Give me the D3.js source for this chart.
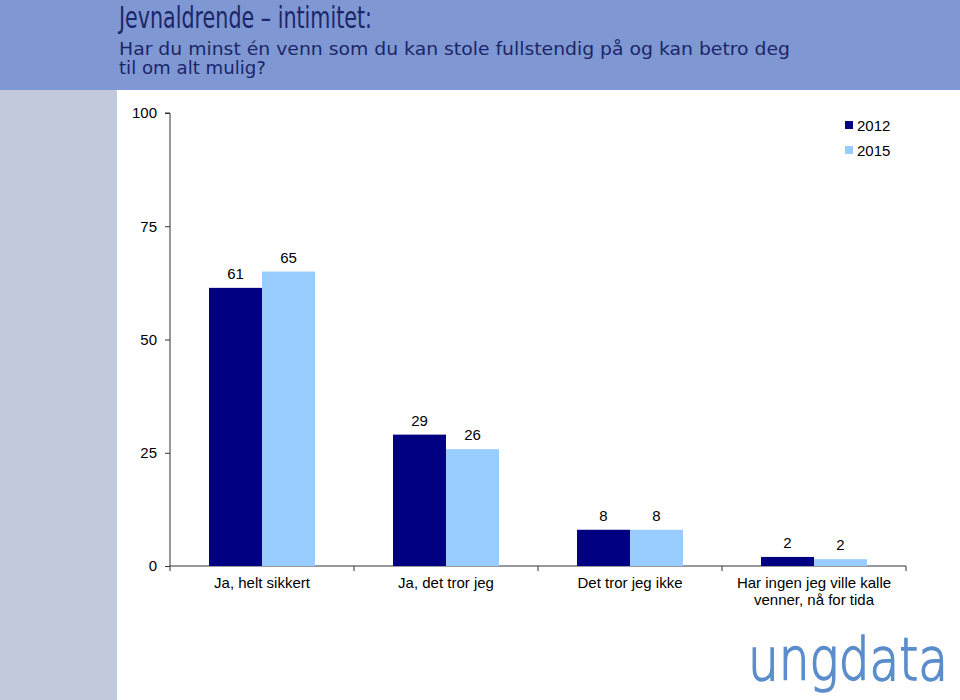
<!DOCTYPE html>
<html><head><meta charset="utf-8">
<script src="https://cdn.jsdelivr.net/npm/d3@7"></script>
<style>body{margin:0;background:#fff}svg{display:block}</style>
</head><body>
<script>
const categories = [["Ja, helt sikkert"], ["Ja, det tror jeg"], ["Det tror jeg ikke"], ["Har ingen jeg ville kalle", "venner, nå for tida"]];
const seriesNames = ["2012", "2015"];
const values2012 = [61.4, 29, 8, 2.0];
const values2015 = [65, 25.8, 8, 1.5];
const labels2012 = ["61", "29", "8", "2"];
const labels2015 = ["65", "26", "8", "2"];
const yTicks = [0, 25, 50, 75, 100];
const colors = ["#000080", "#99ccff"];

const W = 960, H = 700;
const svg = d3.select("body").append("svg").attr("width", W).attr("height", H);

// background panels
svg.append("rect").attr("x", 0).attr("y", 0).attr("width", W).attr("height", 90).attr("fill", "#7f97d2");
svg.append("rect").attr("x", 0).attr("y", 90).attr("width", 117).attr("height", H - 90).attr("fill", "#c0cadc");

// titles
const tcol = "#1c2668";
const tf = "'DejaVu Sans', sans-serif";
svg.append("text").attr("x", 119).attr("y", 28).attr("font-family", tf).attr("font-size", 30).attr("fill", tcol)
  .attr("textLength", 253).attr("lengthAdjust", "spacingAndGlyphs").text("Jevnaldrende – intimitet:");
svg.append("text").attr("x", 119).attr("y", 55).attr("font-family", tf).attr("font-size", 18).attr("fill", tcol)
  .attr("textLength", 671).attr("lengthAdjust", "spacingAndGlyphs").text("Har du minst én venn som du kan stole fullstendig på og kan betro deg");
svg.append("text").attr("x", 119).attr("y", 74).attr("font-family", tf).attr("font-size", 18).attr("fill", tcol)
  .attr("textLength", 147).attr("lengthAdjust", "spacingAndGlyphs").text("til om alt mulig?");

// scales
const x0 = d3.scaleBand().domain(d3.range(categories.length)).range([170, 906]).paddingInner(0).paddingOuter(0);
const y = d3.scaleLinear().domain([0, 100]).range([566, 113]);
const barW = 53;

const font = "'Liberation Sans', Arial, sans-serif";
const fs = 15;

// y axis
const yAxis = svg.append("g").attr("transform", "translate(170,0)")
  .call(d3.axisLeft(y).tickValues(yTicks).tickSize(5).tickPadding(8).tickFormat(d3.format("d")));
yAxis.select(".domain").attr("stroke", "#333").attr("d", `M-5,${y(100)}H0V${y(0)}`);
yAxis.selectAll(".tick line").attr("stroke", "#333");
yAxis.selectAll(".tick text").attr("font-family", font).attr("font-size", fs).attr("fill", "#000");

// x axis
const xAxisG = svg.append("g").attr("transform", `translate(0,${y(0)})`);
xAxisG.append("line").attr("x1", 170).attr("x2", 906).attr("stroke", "#333");
const bounds = d3.range(categories.length + 1).map(i => i < categories.length ? x0(i) : x0(i - 1) + x0.bandwidth());
xAxisG.selectAll("line.tk").data(bounds).join("line").attr("class", "tk")
  .attr("x1", d => d).attr("x2", d => d).attr("y1", 0).attr("y2", 5).attr("stroke", "#333");

// bars
const allSeries = [values2012, values2015];
const allLabels = [labels2012, labels2015];
allSeries.forEach((vals, s) => {
  const g = svg.append("g");
  g.selectAll("rect").data(vals).join("rect")
    .attr("x", (d, i) => x0(i) + x0.bandwidth() / 2 - barW + s * barW)
    .attr("y", d => y(d))
    .attr("width", barW)
    .attr("height", d => y(0) - y(d))
    .attr("fill", colors[s]);
  g.selectAll("text").data(vals).join("text")
    .attr("x", (d, i) => x0(i) + x0.bandwidth() / 2 - barW / 2 + s * barW)
    .attr("y", d => y(d) - 9)
    .attr("text-anchor", "middle").attr("font-family", font).attr("font-size", fs).attr("fill", "#000")
    .text((d, i) => allLabels[s][i]);
});

// category labels
categories.forEach((lines, i) => {
  const cx = x0(i) + x0.bandwidth() / 2;
  const t = svg.append("text").attr("x", cx).attr("y", 588)
    .attr("text-anchor", "middle").attr("font-family", font).attr("font-size", fs).attr("fill", "#000");
  lines.forEach((l, k) => t.append("tspan").attr("x", cx).attr("dy", k ? 17 : 0).text(l));
});

// legend
seriesNames.forEach((n, i) => {
  svg.append("rect").attr("x", 845).attr("y", 121 + i * 25).attr("width", 8).attr("height", 8).attr("fill", colors[i]);
  svg.append("text").attr("x", 857).attr("y", 131 + i * 25).attr("font-family", font).attr("font-size", fs).attr("fill", "#000").text(n);
});

// logo
svg.append("text").attr("x", 748).attr("y", 680).attr("font-family", "'DejaVu Sans', sans-serif").attr("font-weight", 200)
  .attr("font-size", 58).attr("fill", "#5b8dcc").attr("stroke", "#5b8dcc").attr("stroke-width", 1.6)
  .attr("textLength", 200).attr("lengthAdjust", "spacingAndGlyphs").text("ungdata");
</script>
</body></html>
